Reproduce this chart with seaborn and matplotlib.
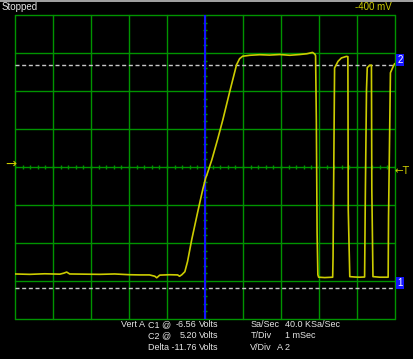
import numpy as np
import pandas as pd
import matplotlib
matplotlib.use("Agg")
import matplotlib.pyplot as plt
import matplotlib.transforms as mtransforms
import seaborn as sns

# ---- data (time in ms, voltage in V) ----
time_ms = [-5.00, -4.61, -4.22, -3.82, -3.72, -3.64, -3.56, -3.17, -2.77, -2.38,
           -1.98, -1.72, -1.46, -1.32, -1.27, -1.19, -0.93, -0.72, -0.67, -0.61,
           -0.53, -0.46, -0.35, -0.19, -0.06, 0.02, 0.05, 0.18, 0.33, 0.47,
           0.65, 0.83, 0.91, 0.99, 1.18, 1.44, 1.70, 1.97, 2.23, 2.49,
           2.68, 2.83, 2.89, 2.91, 2.93, 2.95, 2.97, 2.99, 3.15, 3.36,
           3.37, 3.41, 3.50, 3.59, 3.72, 3.76, 3.77, 3.81, 3.94, 4.07,
           4.20, 4.22, 4.25, 4.27, 4.33, 4.38, 4.39, 4.42, 4.60, 4.82,
           4.83, 4.88, 4.95, 4.99]
volts = [-5.81, -5.83, -5.80, -5.82, -5.77, -5.71, -5.81, -5.82, -5.83, -5.81,
         -5.85, -5.86, -5.86, -5.93, -6.01, -5.87, -5.85, -5.86, -5.93, -5.85,
         -5.69, -5.16, -4.01, -2.53, -1.37, -0.74, -0.59, 0.20, 1.26, 2.31,
         3.78, 5.20, 5.52, 5.65, 5.70, 5.73, 5.71, 5.74, 5.70, 5.74,
         5.78, 5.85, 5.76, 5.68, 2.31, -3.64, -5.85, -5.98, -6.00, -5.98,
         -4.90, 5.03, 5.38, 5.56, 5.64, 5.63, -2.43, -5.95, -5.97, -5.98,
         -5.97, -1.53, 3.89, 5.05, 5.17, 5.18, -1.37, -5.95, -5.98, -5.98,
         -2.80, 4.78, 5.10, 5.26]

cursor_labels = ["1", "2"]
cursor_volts = [-6.56, 5.20]          # C1, C2
volts_per_div = 2.0
ms_per_div = 1.0
center_volts = -0.18
sample_rate = "40.0 KSa/Sec"
time_div = "1 mSec"
vdiv_label = "A 2"
offset_label = "-400 mV"
status = "Stopped"

# ---- styling ----
BG = "black"
GRID = "#009400"
TRACE = "#cccc00"
BLUE = "#1414ff"
DASH = "#c8c8c8"
TXT = "#e6e6e6"
FONT = ["Liberation Sans", "DejaVu Sans"]

sns.set_style("dark")
plt.rcParams["font.family"] = FONT

W, H = 414, 359
fig = plt.figure(figsize=(W / 100, H / 100), dpi=100, facecolor=BG)
ax = fig.add_axes([15 / W, 40 / H, 380 / W, 304 / H])
ax.set_facecolor(BG)

x0, x1 = -5 * ms_per_div, 5 * ms_per_div
y0, y1 = center_volts - 4 * volts_per_div, center_volts + 4 * volts_per_div
ax.set_xlim(x0, x1)
ax.set_ylim(y0, y1)
ax.set_xticks([])
ax.set_yticks([])
ax.grid(False)
for s in ax.spines.values():
    s.set_visible(False)

# graticule drawn explicitly
for gx in np.arange(x0, x1 + 1e-9, ms_per_div):
    ax.axvline(gx, color=GRID, lw=1.0, zorder=1, clip_on=False)
for gy in np.arange(y0, y1 + 1e-9, volts_per_div):
    ax.axhline(gy, color=GRID, lw=1.0, zorder=1, clip_on=False)

# center-axis minor ticks
minor_t = np.arange(x0, x1 + 1e-9, ms_per_div / 5)
ax.plot(minor_t, np.full_like(minor_t, center_volts), ls="none", marker="|",
        ms=3.5, mew=1.0, color=GRID, zorder=2)
minor_v = np.arange(y0, y1 + 1e-9, volts_per_div / 5)
ax.plot(np.zeros_like(minor_v), minor_v, ls="none", marker="_",
        ms=3.5, mew=1.0, color=GRID, zorder=2)

# cursors
for v in cursor_volts:
    ax.axhline(v, color=DASH, lw=1.0, dashes=(2.9, 1.9), zorder=3)

# trigger time line
ax.axvline(0, color=BLUE, lw=1.5, zorder=3)

# waveform
df = pd.DataFrame({"t": time_ms, "v": volts})
sns.lineplot(data=df, x="t", y="v", sort=False, estimator=None, ax=ax,
             color=TRACE, lw=1.2, zorder=4)
ax.set_xlabel("")
ax.set_ylabel("")

# cursor tags on the right
trans = mtransforms.blended_transform_factory(ax.transAxes, ax.transData)
for lab, v in zip(cursor_labels, cursor_volts):
    ax.text(1.0 + 5.0 / 380, v, lab, transform=trans, ha="center", va="bottom",
            fontsize=7, color="white", clip_on=False,
            bbox=dict(boxstyle="square,pad=0.12", fc=BLUE, ec="none"))

def ftext(x, y, s, **kw):
    kw.setdefault("color", TXT)
    kw.setdefault("fontsize", 6.5)
    kw.setdefault("va", "center")
    fig.text(x / W, 1 - y / H, s, **kw)

# top bar
fig.add_artist(plt.Line2D([0, 1], [1 - 0.6 / H, 1 - 0.6 / H], color="#c0c0c0", lw=1.2))
ftext(2, 6.5, status, fontsize=7)
ftext(373, 6.5, offset_label, ha="center", color=TRACE, fontsize=7)

# trigger markers
ftext(11, 164, "\u2192", ha="center", color=TRACE, fontsize=9.5, family=["DejaVu Sans"])
ftext(402, 171.5, "\u2190T", ha="center", color=TRACE, fontsize=7.5, family=["DejaVu Sans"])

# bottom readout
c1, c2 = cursor_volts
delta = c1 - c2
ftext(121, 324.5, "Vert A")
ftext(148, 324.5, "C1 @")
ftext(176, 324.5, f"{c1:.2f}")
ftext(199, 324.5, "Volts")
ftext(148, 336, "C2 @")
ftext(180, 336, f"{c2:.2f}")
ftext(199, 336, "Volts")
ftext(148, 347.5, f"Delta {delta:.2f}")
ftext(199, 347.5, "Volts")

ftext(250.5, 324.5, "Sa/Sec")
ftext(285, 324.5, sample_rate)
ftext(250.5, 336, "T/Div")
ftext(285.5, 336, time_div)
ftext(250, 347.5, "V/Div")
ftext(277.5, 347.5, vdiv_label)

fig.savefig("out.png", dpi=100, facecolor=BG)
